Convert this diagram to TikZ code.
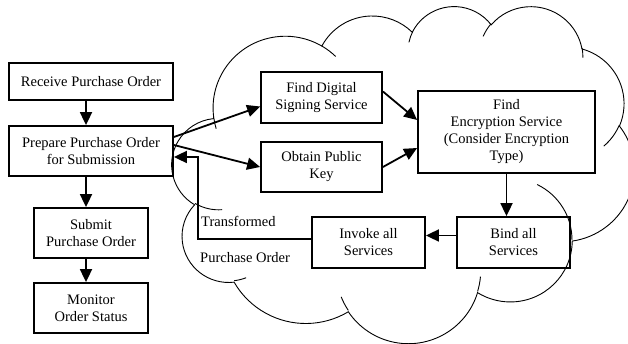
\documentclass[tikz,border=0pt]{standalone}
\usepackage{fontspec}
\setmainfont{Liberation Serif}
\usetikzlibrary{arrows.meta}

% parametric angle of an ellipse point seen under a visual angle
\newcommand{\paramang}[3]{(#3)+mod(atan2((#1)*sin(#3),(#2)*cos(#3))-(#3)+540,360)-180}
\newcommand{\cloudarc}[4]{arc[x radius=#1, y radius=#2, start angle={\paramang{#1}{#2}{#3}}, end angle={\paramang{#1}{#2}{#3+#4}}]}

\begin{document}
\begin{tikzpicture}[x=1pt, y=-1pt,
    font=\fontsize{14.5}{17}\selectfont,
    box/.style={draw, rectangle, line width=1.8pt, align=center, inner sep=2pt},
    flow/.style={-{Triangle[length=13pt, width=12pt]}, line width=1.8pt},
    cloudline/.style={line width=0.9pt}]
    \useasboundingbox (0,0) rectangle (628,344);

    % Cloud
    \begin{scope}
        \clip (0,0) rectangle (628,344);
        \begin{scope}[shift={(172,5.5)}, x=10.70pt, y=-7.80pt]
            \draw[cloudline] (3.900,14.370)
                \cloudarc{6.753}{9.190}{-190.4875}{123.7805}
                \cloudarc{5.333}{7.267}{-144.1024}{89.9452}
                \cloudarc{4.365}{5.945}{-145.8079}{99.7230}
                \cloudarc{4.857}{6.595}{-130.9861}{117.2417}
                \cloudarc{5.333}{7.273}{-78.7089}{109.0269}
                \cloudarc{6.775}{9.220}{-46.2673}{130.2690}
                \cloudarc{5.785}{7.867}{0.6250}{114.0333}
                \cloudarc{6.752}{9.215}{22.4516}{115.1726}
                \cloudarc{7.720}{10.543}{66.2426}{75.7110}
                \cloudarc{4.360}{5.918}{-274.9421}{146.7356}
                \cloudarc{4.345}{5.945}{-246.8285}{152.5189} -- cycle;
            \draw[cloudline]
                (4.693,26.177) \cloudarc{4.345}{5.945}{86.742}{26.4295}
                (6.928,34.899) \cloudarc{4.360}{5.918}{73.6105}{11.4475}
                (16.478,39.090) \cloudarc{6.752}{9.215}{137.6242}{14.0811}
                (28.827,34.751) \cloudarc{6.752}{9.215}{6.4533}{15.9984}
                (34.129,22.954) \cloudarc{5.785}{7.867}{-70.2924}{70.9174}
                (41.798,15.354) \cloudarc{5.333}{7.273}{30.3180}{27.7515}
                (38.324,5.426) \cloudarc{4.857}{6.595}{-13.7443}{14.8589}
                (29.078,3.952) \cloudarc{4.857}{6.595}{-149.1815}{18.1954}
                (22.141,4.720) \cloudarc{4.365}{5.945}{-163.4943}{17.6864}
                (14.000,5.192) \cloudarc{6.753}{9.190}{-66.7070}{12.3194}
                (4.127,15.789) \cloudarc{6.753}{9.190}{157.8820}{11.63};
        \end{scope}
    \end{scope}

    % Purchase order steps
    \node[box, minimum width=164pt, minimum height=37pt] (receive) at (91,81.5) {Receive Purchase Order};
    \node[box, minimum width=164pt, minimum height=50pt] (prepare) at (91,151) {Prepare Purchase Order\\for Submission};
    \node[box, minimum width=114pt, minimum height=50pt] (submit) at (91,233) {Submit\\Purchase Order};
    \node[box, minimum width=114pt, minimum height=50pt] (monitor) at (91,308) {Monitor\\Order Status};

    % Services in the cloud
    \node[box, minimum width=121pt, minimum height=51pt] (signing) at (321.5,97.5) {Find Digital\\Signing Service};
    \node[box, minimum width=121pt, minimum height=50pt] (pubkey) at (321.5,167) {Obtain Public\\Key};
    \node[box, minimum width=177pt, minimum height=82pt] (encrypt) at (506.5,132) {Find\\Encryption Service\\(Consider Encryption\\Type)};
    \node[box, minimum width=113pt, minimum height=51pt] (bind) at (513.5,242.5) {Bind all\\Services};
    \node[box, minimum width=113pt, minimum height=51pt] (invoke) at (368.5,242.5) {Invoke all\\Services};

    % Arrows
    \draw[flow] ([xshift=-5pt]receive.south) -- ([xshift=-5pt]prepare.north);
    \draw[flow] ([xshift=-5pt]prepare.south) -- ([xshift=-5pt]submit.north);
    \draw[flow] ([xshift=-5pt]submit.south) -- ([xshift=-5pt]monitor.north);
    \draw[flow] ([yshift=14pt]prepare.east) -- ([yshift=-9pt]signing.west);
    \draw[flow] ([yshift=6pt]prepare.east) -- (pubkey.west);
    \draw[flow] ([yshift=6pt]signing.east) -- ([yshift=12pt]encrypt.west);
    \draw[flow] (pubkey.east) -- ([yshift=-16pt]encrypt.west);
    \draw[flow] (encrypt.south) -- (encrypt.south |- bind.north);
    \draw[flow] ([yshift=7pt]bind.west) -- ([yshift=7pt]invoke.east);

    % Transformed order goes back
    \coordinate (back) at (198,239);
    \draw[flow] ([yshift=3.5pt]invoke.west) -- (back) |- ([yshift=-6pt]prepare.east);
    \node[anchor=base west, inner sep=0pt] (transformed) at ([shift={(3pt,12pt)}]back) {Transformed};
    \node[anchor=base west, inner sep=0pt] (order) at ([shift={(2pt,-23pt)}]back) {Purchase Order};
\end{tikzpicture}
\end{document}
